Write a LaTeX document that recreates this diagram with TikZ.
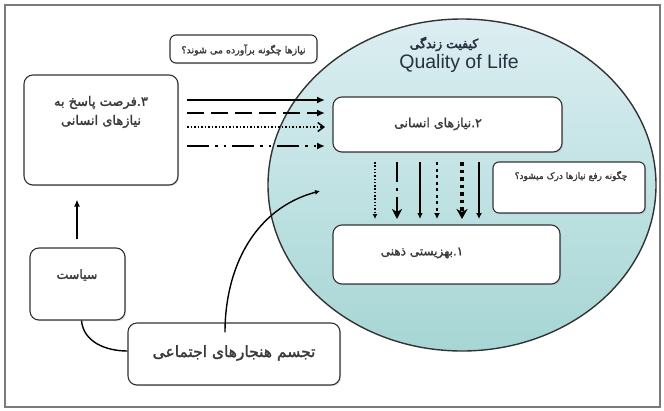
\documentclass[tikz,border=0pt]{standalone}
\usepackage{fontspec}
\setmainfont{Liberation Sans}
\newfontfamily\fa[Script=Arabic,FakeBold=1.8]{DejaVu Sans}
\newfontfamily\fatit[Script=Arabic,FakeBold=3.5]{DejaVu Sans}
\TeXXeTstate=1
\usetikzlibrary{arrows.meta,shadows}
\definecolor{boxc}{HTML}{333333}
\definecolor{txt}{HTML}{3A3A3A}
\definecolor{titc}{HTML}{26323F}
\definecolor{tealA}{HTML}{A6D6D4}
\definecolor{tealB}{HTML}{DCEEF2}
\definecolor{framec}{HTML}{7A7A7A}
\tikzset{
  box/.style={draw=boxc, line width=1.1pt, fill=white, rounded corners=9pt, inner sep=0pt,
    drop shadow={shadow xshift=1.2pt, shadow yshift=-1.2pt, opacity=0.25}},
  smallbox/.style={box, rounded corners=6pt},
  fatext/.style={text=txt, inner sep=0pt},
  conn/.style={draw=black, line width=1.4pt},
  harrow/.style={line width=2.2pt, -{Latex[length=8pt,width=7pt]}},
}
\begin{document}
\begin{tikzpicture}[x=1pt,y=-1pt]
\useasboundingbox (0,0) rectangle (664,410);
\fill[white] (0,0) rectangle (664,410);
\draw[framec, line width=1.6pt] (5,5) rectangle (660,407);

% big ellipse
\path[draw=boxc, line width=1.4pt, top color=tealB, bottom color=tealA]
  (462,185) ellipse [x radius=194pt, y radius=166pt];

% title
\node[font=\fatit\fontsize{12.5}{14}\selectfont, text=titc] (tfa) at (444,44) {\beginR کیفیت زندگی\endR};
\node[font=\fontsize{19.5}{21}\selectfont, text=titc] (ten) at (459,63) {Quality of Life};

% boxes
\node[smallbox, minimum width=147pt, minimum height=28pt] (q) at (243.5,49) {};
\node[fatext, font=\fa\fontsize{9.5}{11}\selectfont] (qt) at (243.5,50) {\beginR نیازها چگونه برآورده می شوند؟\endR};

\node[box, minimum width=154pt, minimum height=110pt] (L3) at (101,130) {};
\node[fatext, align=center, font=\fa\fontsize{13}{19}\selectfont] (L3t) at (101,112) {\beginR ۳.فرصت پاسخ به\endR\\\beginR نیازهای انسانی\endR};

\node[box, minimum width=229pt, minimum height=55pt] (U) at (447.5,124.5) {};
\node[fatext, font=\fa\fontsize{12.5}{14}\selectfont] (Ut) at (438,124) {\beginR ۲.نیازهای انسانی\endR};

\node[smallbox, minimum width=152pt, minimum height=51pt] (R) at (569,187.5) {};
\node[fatext, font=\fa\fontsize{9}{11}\selectfont] (Rt) at (571,176) {\beginR چگونه رفع نیازها درک میشود؟\endR};

\node[box, minimum width=227pt, minimum height=59pt] (B) at (446.5,254.5) {};
\node[fatext, font=\fa\fontsize{12}{14}\selectfont] (Bt) at (422,253) {\beginR ۱.بهزیستی ذهنی\endR};

\node[box, minimum width=95pt, minimum height=72pt] (P) at (77.5,284) {};
\node[fatext, font=\fa\fontsize{12.5}{14}\selectfont] (Pt) at (77,275) {\beginR سیاست\endR};

\node[box, minimum width=212pt, minimum height=62pt] (S) at (234,354) {};
\node[fatext, font=\fa\fontsize{15.5}{18}\selectfont] (St) at (234,353) {\beginR تجسم هنجارهای اجتماعی\endR};

% horizontal arrows
\coordinate (h1s) at (187,100); \coordinate (h1e) at (325,100);
\coordinate (h2s) at (187,113); \coordinate (h2e) at (325,113);
\coordinate (h3s) at (187,127); \coordinate (h3e) at (325,127);
\coordinate (h4s) at (187,146); \coordinate (h4e) at (325,146);
\draw[harrow] (h1s) -- (h1e);
\draw[harrow, dash pattern=on 17pt off 7pt] (h2s) -- (h2e);
\draw[line width=1.1pt, dash pattern=on 1.5pt off 2pt, -{Straight Barb[length=6pt,width=9pt,line width=1.5pt]}] (h3s) -- (h3e);
\draw[harrow, dash pattern=on 22pt off 6pt on 2.5pt off 6pt on 2.5pt off 6pt] (h4s) -- (h4e);

% vertical arrows
\coordinate (v1s) at (375,162); \coordinate (v1e) at (375,219);
\coordinate (v2s) at (397,162); \coordinate (v2e) at (397,219);
\coordinate (v3s) at (420,162); \coordinate (v3e) at (420,219);
\coordinate (v4s) at (437,162); \coordinate (v4e) at (437,219);
\coordinate (v5s) at (462,162); \coordinate (v5e) at (462,219);
\coordinate (v6s) at (479,162); \coordinate (v6e) at (479,219);
\draw[line width=1.3pt, dash pattern=on 1.5pt off 1.8pt, -{Latex[length=5pt,width=5pt]}] (v1s) -- (v1e);
\draw[line width=2pt, dash pattern=on 20pt off 6pt on 2.5pt off 6pt, -{Stealth[length=10pt,width=10pt,inset=3pt]}] (v2s) -- (v2e);
\draw[line width=1.6pt, -{Latex[length=6pt,width=5.5pt]}] (v3s) -- (v3e);
\draw[line width=2.4pt, dash pattern=on 3pt off 3.5pt, -{Latex[length=6pt,width=6pt]}] (v4s) -- (v4e);
\draw[line width=3.2pt, dash pattern=on 3.5pt off 4pt, -{Stealth[length=10pt,width=11pt,inset=3pt]}] (v5s) -- (v5e);
\draw[line width=2pt, -{Latex[length=6pt,width=6pt]}] (v6s) -- (v6e);

% connectors
\draw[conn, line width=2pt, -{Latex[length=7pt,width=6pt]}, shorten <=8pt, shorten >=14pt] (P.north -| 77,0) -- (L3.south -| 77,0);
\draw[conn] ([xshift=4pt]P.south) to[out=-85,in=180] ([yshift=3pt]S.west);
\coordinate (qe) at (320,191);
\draw[conn, -{Latex[length=5pt,width=5pt]}] ([xshift=-9pt,yshift=-10pt]S.north) to[out=90,in=195] (qe);
\end{tikzpicture}
\end{document}
